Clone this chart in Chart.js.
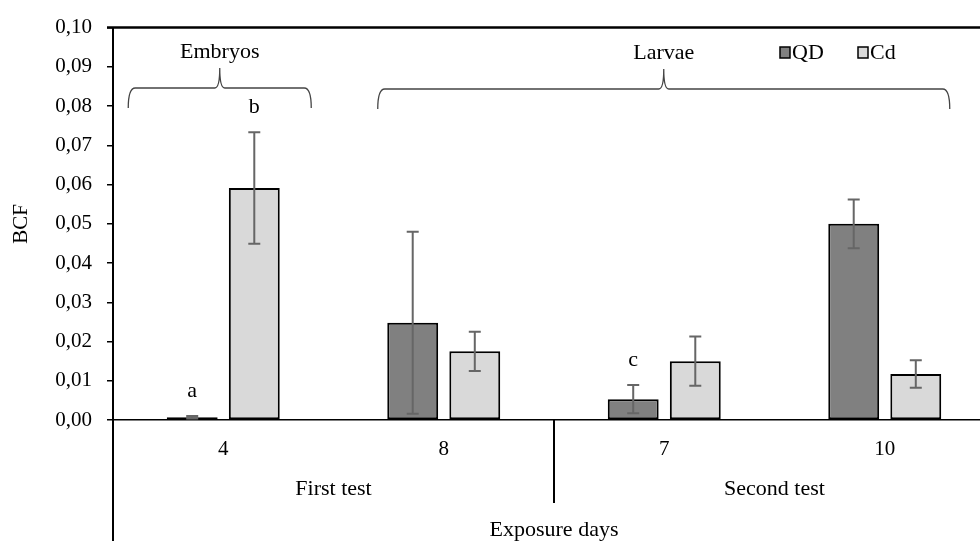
<!DOCTYPE html>
<html>
<head>
<meta charset="utf-8">
<script src="https://cdn.jsdelivr.net/npm/chart.js@4.4.1/dist/chart.umd.min.js"></script>
<style>
    html, body { margin: 0; padding: 0; background: #fff; overflow: hidden; }
    #wrap { width: 995px; height: 541px; }
</style>
</head>
<body>
<div id="wrap"><canvas id="myChart"></canvas></div>
<script>
const days = ['4', '8', '7', '10'];
const qdValues = [0.0007, 0.0248, 0.0053, 0.0500];
const qdErrors = [0.0003, 0.0232, 0.0036, 0.0062];
const cdValues = [0.0591, 0.0175, 0.0150, 0.0117];
const cdErrors = [0.0142, 0.0050, 0.0063, 0.0035];
const qdLetters = ['a', '', 'c', ''];
const cdLetters = ['b', '', '', ''];
const yTickLabels = ['0,00', '0,01', '0,02', '0,03', '0,04', '0,05', '0,06', '0,07', '0,08', '0,09', '0,10'];
const tests = ['First test', 'Second test'];
const stages = ['Embryos', 'Larvae'];

const serif = "'Liberation Serif', 'Times New Roman', serif";

function drawBrace(ctx, x1, x2, yLine, yEnd, yTip) {
    const xm = (x1 + x2) / 2;
    ctx.beginPath();
    ctx.moveTo(x1, yEnd);
    ctx.quadraticCurveTo(x1, yLine, x1 + 7, yLine);
    ctx.lineTo(xm - 5, yLine);
    ctx.quadraticCurveTo(xm, yLine, xm, yTip);
    ctx.quadraticCurveTo(xm, yLine, xm + 5, yLine);
    ctx.lineTo(x2 - 7, yLine);
    ctx.quadraticCurveTo(x2, yLine, x2, yEnd);
    ctx.stroke();
    return xm;
}

const extras = {
    id: 'extras',
    afterDatasetsDraw(chart) {
        const ctx = chart.ctx;
        const y = chart.scales.y;
        const errs = [qdErrors, cdErrors];
        const letters = [qdLetters, cdLetters];
        ctx.save();
        chart.data.datasets.forEach((ds, i) => {
            chart.getDatasetMeta(i).data.forEach((bar, j) => {
                const v = ds.data[j];
                const top = y.getPixelForValue(v + errs[i][j]);
                const bot = y.getPixelForValue(Math.max(v - errs[i][j], 0));
                ctx.strokeStyle = '#666';
                ctx.lineWidth = 2;
                ctx.beginPath();
                ctx.moveTo(bar.x, top);
                ctx.lineTo(bar.x, bot);
                ctx.moveTo(bar.x - 6, top);
                ctx.lineTo(bar.x + 6, top);
                ctx.moveTo(bar.x - 6, bot);
                ctx.lineTo(bar.x + 6, bot);
                ctx.stroke();
                if (letters[i][j]) {
                    ctx.fillStyle = '#000';
                    ctx.font = '22px ' + serif;
                    ctx.textAlign = 'center';
                    ctx.textBaseline = 'middle';
                    ctx.fillText(letters[i][j], bar.x, top - 25);
                }
            });
        });
        ctx.restore();
    },
    afterDraw(chart) {
        const ctx = chart.ctx;
        const x = chart.scales.x;
        const area = chart.chartArea;
        ctx.save();
        ctx.strokeStyle = '#000';

        // top frame line
        ctx.lineWidth = 2.5;
        ctx.beginPath();
        ctx.moveTo(area.left - 6, area.top);
        ctx.lineTo(chart.width, area.top);
        ctx.stroke();

        // y axis running down through the category area
        ctx.lineWidth = 2;
        ctx.beginPath();
        ctx.moveTo(area.left, area.bottom);
        ctx.lineTo(area.left, chart.height);
        ctx.stroke();

        // divider between the two tests
        const xd = (x.getPixelForValue(1) + x.getPixelForValue(2)) / 2;
        ctx.beginPath();
        ctx.moveTo(xd, area.bottom);
        ctx.lineTo(xd, area.bottom + 83);
        ctx.stroke();

        ctx.fillStyle = '#000';
        ctx.font = '22px ' + serif;
        ctx.textAlign = 'center';
        ctx.textBaseline = 'middle';
        ctx.fillText(tests[0], (area.left + xd) / 2, 489);
        ctx.fillText(tests[1], (xd + area.right) / 2, 489);

        // braces
        ctx.strokeStyle = '#444';
        ctx.lineWidth = 1.3;
        const m1 = drawBrace(ctx, x.getPixelForValue(0) - 95, x.getPixelForValue(0) + 88, 88, 108, 68);
        const m2 = drawBrace(ctx, x.getPixelForValue(1) - 66, x.getPixelForValue(3) + 65, 89, 109, 69);
        ctx.fillText(stages[0], m1, 52);
        ctx.fillText(stages[1], m2, 53);

        // legend
        const items = [['QD', '#808080', 780], ['Cd', '#d9d9d9', 858]];
        items.forEach(([name, color, lx]) => {
            ctx.fillStyle = color;
            ctx.fillRect(lx, 47, 10, 11);
            ctx.strokeStyle = '#000';
            ctx.lineWidth = 1.5;
            ctx.strokeRect(lx, 47, 10, 11);
            ctx.fillStyle = '#000';
            ctx.textAlign = 'left';
            ctx.fillText(name, lx + 12, 53);
        });
        ctx.restore();
    }
};

const ctx = document.getElementById('myChart').getContext('2d');
new Chart(ctx, {
    type: 'bar',
    data: {
        labels: days,
        datasets: [
            {
                label: 'QD',
                data: qdValues,
                backgroundColor: '#808080',
                borderColor: '#000',
                borderWidth: 2,
                borderSkipped: false,
            },
            {
                label: 'Cd',
                data: cdValues,
                backgroundColor: '#d9d9d9',
                borderColor: '#000',
                borderWidth: 2,
                borderSkipped: false,
            },
        ],
    },
    options: {
        responsive: true,
        maintainAspectRatio: false,
        animation: false,
        layout: { padding: { top: 21, left: 0, right: 0, bottom: 0 } },
        datasets: { bar: { categoryPercentage: 0.563, barPercentage: 0.82 } },
        plugins: {
            legend: { display: false },
            tooltip: { enabled: false },
        },
        scales: {
            x: {
                grid: { display: false },
                border: { display: true, color: '#000', width: 1.5 },
                ticks: { color: '#000', font: { family: serif, size: 21 }, padding: 9 },
                title: {
                    display: true,
                    text: 'Exposure days',
                    color: '#000',
                    font: { family: serif, size: 22, lineHeight: 1 },
                    padding: 0,
                },
                afterFit: function (scale) {
                    scale.height = 121;
                },
            },
            y: {
                min: 0,
                max: 0.1,
                ticks: {
                    stepSize: 0.01,
                    color: '#000',
                    font: { family: serif, size: 21 },
                    padding: 15,
                    callback: function (value, index) {
                        return yTickLabels[index];
                    },
                },
                grid: { drawOnChartArea: false, drawTicks: true, tickLength: 6, color: '#000', lineWidth: 1.5 },
                border: { display: true, color: '#000', width: 2 },
                title: {
                    display: true,
                    text: 'BCF',
                    color: '#000',
                    font: { family: serif, size: 21, lineHeight: 1 },
                    padding: { top: 11, bottom: 0 },
                },
                afterFit: function (scale) {
                    scale.width = 113;
                },
            },
        },
    },
    plugins: [extras],
});
</script>
</body>
</html>
